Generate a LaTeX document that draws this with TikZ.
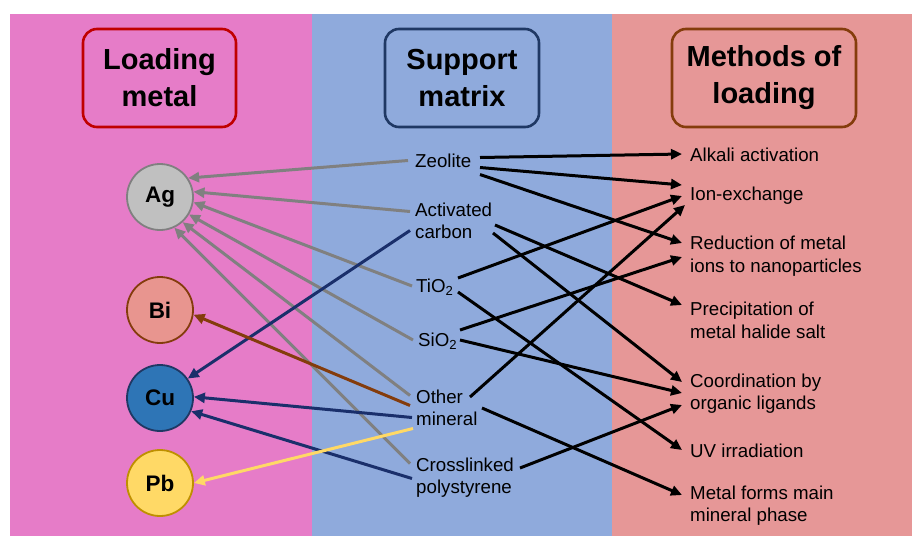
\documentclass[tikz,border=0pt]{standalone}
\usepackage{fontspec}
\setmainfont{Liberation Sans}
\usetikzlibrary{arrows.meta,calc}
\definecolor{bgpink}{HTML}{E67CC8}
\definecolor{bgblue}{HTML}{8FAADC}
\definecolor{bgred}{HTML}{E69797}
\definecolor{hdred}{HTML}{C00000}
\definecolor{hdnavy}{HTML}{1F3864}
\definecolor{hdbrown}{HTML}{843C0C}
\definecolor{aggray}{HTML}{C0C0C0}
\definecolor{agline}{HTML}{808080}
\definecolor{bifill}{HTML}{E8958F}
\definecolor{cufill}{HTML}{2E75B6}
\definecolor{pbfill}{HTML}{FFD966}
\definecolor{pbline}{HTML}{BF9000}
\definecolor{arnavy}{HTML}{1A2F6B}
\begin{document}
\begin{tikzpicture}[x=1pt,y=-1pt,
  header/.style={draw, line width=2.6pt, rounded corners=14pt, align=center,
    font=\bfseries\fontsize{29}{37}\selectfont, inner sep=0pt},
  metal/.style={circle, draw, line width=1.8pt, minimum size=66pt, inner sep=0pt,
    font=\bfseries\fontsize{22.5}{26}\selectfont},
  midtxt/.style={anchor=west, inner sep=0pt, align=left,
    font=\fontsize{18.7}{22}\selectfont},
  ritxt/.style={anchor=west, inner sep=0pt, align=left,
    font=\fontsize{18.7}{22.5}\selectfont},
  conn/.style={line width=3pt, -{Triangle[length=11pt,width=10pt]}},
  gconn/.style={conn, agline},
  bconn/.style={conn, black},
]
\useasboundingbox (0,0) rectangle (912,536);
% backgrounds
\fill[bgpink] (10,14) rectangle (311.5,536);
\fill[bgblue] (311.5,14) rectangle (612,536);
\fill[bgred] (612,14) rectangle (912,536);
% headers
\node[header, hdred, text=black, minimum width=153pt, minimum height=98pt] (hm) at (159.5,78) {Loading\\metal};
\node[header, hdnavy, text=black, minimum width=154pt, minimum height=98pt] (hs) at (462,78) {Support\\matrix};
\node[header, hdbrown, text=black, minimum width=184pt, minimum height=98pt] (hl) at (764,78) {Methods of\\loading};
% metals
\node[metal, fill=aggray, draw=agline] (ag) at (160,197) {Ag};
\node[metal, fill=bifill, draw=hdbrown] (bi) at (160,310) {Bi};
\node[metal, fill=cufill, draw=hdnavy] (cu) at (160,398) {Cu};
\node[metal, fill=pbfill, draw=pbline] (pb) at (160,483) {Pb};
% support matrices
\node[midtxt] (zeo) at (415,160.5) {Zeolite};
\node[midtxt] (act) at (415,221) {Activated\\carbon};
\node[midtxt] (tio) at (416,287) {TiO\textsubscript{2}};
\node[midtxt] (sio) at (418,341) {SiO\textsubscript{2}};
\node[midtxt] (oth) at (416,407.5) {Other\\mineral};
\node[midtxt] (cro) at (416,477.5) {Crosslinked\\polystyrene};
% methods
\node[ritxt] (alk) at (690,155) {Alkali activation};
\node[ritxt] (ion) at (690,196) {Ion-exchange};
\node[ritxt] (red) at (690,256) {Reduction of metal\\ions to nanoparticles};
\node[ritxt] (pre) at (690,320.5) {Precipitation of\\metal halide salt};
\node[ritxt] (coo) at (690,393.5) {Coordination by\\organic ligands};
\node[ritxt] (uv) at (690,451) {UV irradiation};
\node[ritxt] (met) at (690,505.5) {Metal forms main\\mineral phase};
% gray arrows to Ag
\draw[gconn] ($(zeo.west)+(-7,0)$) -- (ag.34);
\draw[gconn] ($(act.west)+(-5,-9.5)$) -- (ag.9);
\draw[gconn] ($(tio.west)+(-4,-1)$) -- (ag.-9);
\draw[gconn] ($(sio.west)+(-5,-1)$) -- (ag.-31);
\draw[gconn] ($(oth.west)+(-6,-12)$) -- (ag.-48);
\draw[gconn] ($(cro.west)+(-6,-14)$) -- (ag.-65);
% navy arrows to Cu
\draw[conn, arnavy] ($(act.west)+(-5,9.5)$) -- (cu.35);
\draw[conn, arnavy] ($(oth.west)+(-4,10)$) -- (cu.2);
\draw[conn, arnavy] ($(cro.west)+(-4,1)$) -- (cu.-23);
% brown arrow to Bi
\draw[conn, hdbrown] ($(oth.west)+(-6,-2)$) -- (bi.-8);
% yellow arrow to Pb
\draw[conn, pbfill] ($(oth.west)+(-3,21)$) -- (pb.0);
% black arrows to methods
\draw[bconn] ($(zeo.west)+(65,-3)$) -- ($(alk.west)+(-8,-1)$);
\draw[bconn] ($(zeo.west)+(65,7)$) -- ($(ion.west)+(-8,-11)$);
\draw[bconn] ($(zeo.west)+(65,14)$) -- ($(red.west)+(-8,-13)$);
\draw[bconn] ($(act.west)+(80,4)$) -- ($(pre.west)+(-8,-15.5)$);
\draw[bconn] ($(act.west)+(78,12)$) -- ($(coo.west)+(-8,-11.5)$);
\draw[bconn] ($(tio.west)+(42,-9)$) -- ($(ion.west)+(-8,0)$);
\draw[bconn] ($(tio.west)+(42,5)$) -- ($(uv.west)+(-8,-1)$);
\draw[bconn] ($(sio.west)+(42,-11)$) -- ($(red.west)+(-8,1)$);
\draw[bconn] ($(sio.west)+(42,-1)$) -- ($(coo.west)+(-8,-0.5)$);
\draw[bconn] ($(oth.west)+(54,-10.5)$) -- ($(ion.west)+(-5,9)$);
\draw[bconn] ($(oth.west)+(66,0.5)$) -- ($(met.west)+(-8,-10.5)$);
\draw[bconn] ($(cro.west)+(104,-9.5)$) -- ($(coo.west)+(-8,11.5)$);
\end{tikzpicture}
\end{document}
